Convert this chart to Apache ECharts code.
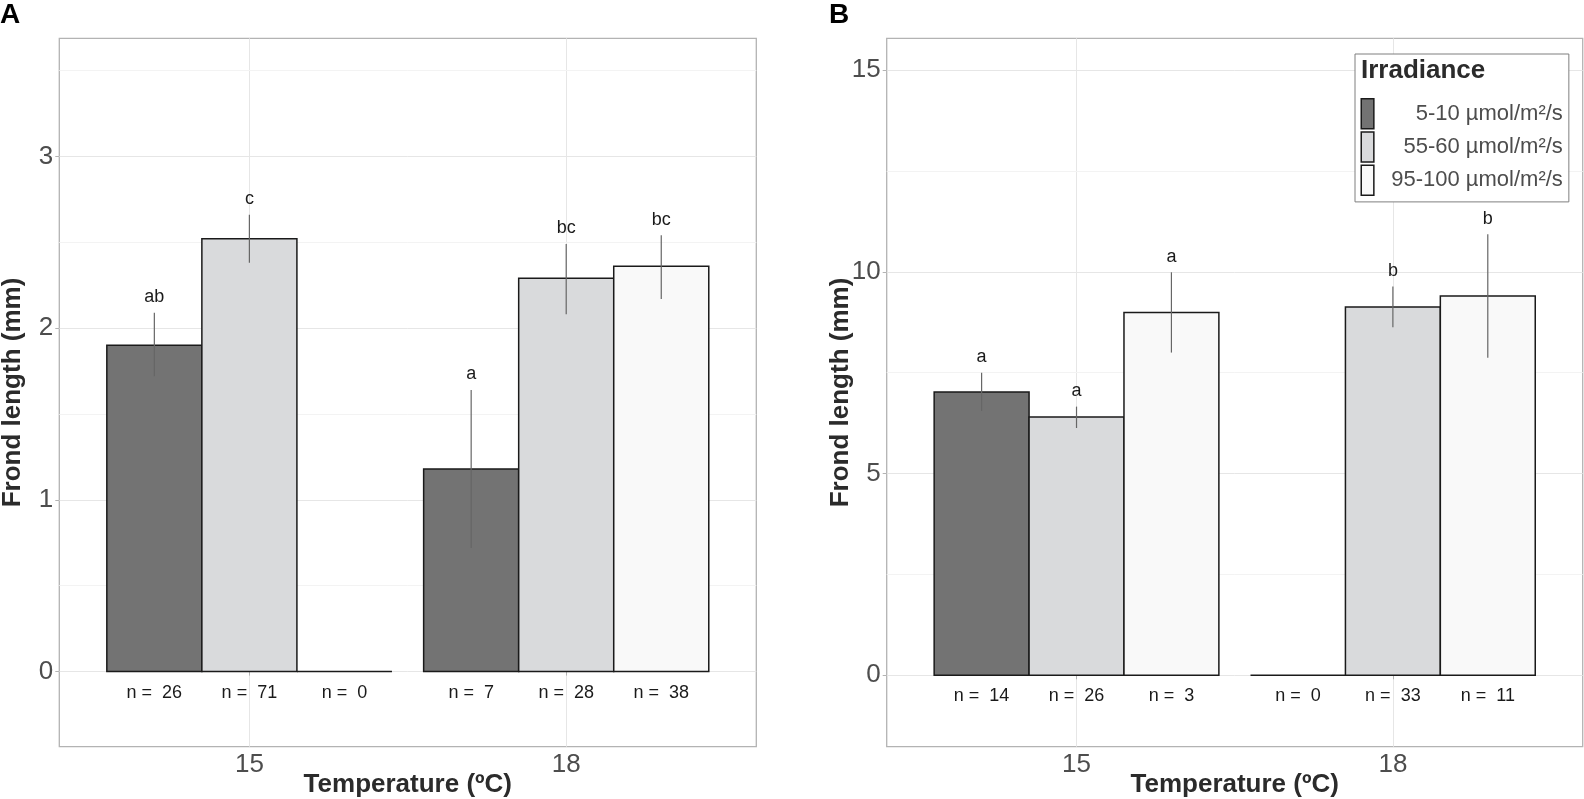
<!DOCTYPE html>
<html>
<head>
<meta charset="utf-8">
<script src="https://cdn.jsdelivr.net/npm/echarts@6/dist/echarts.min.js"></script>
<style>
html,body{margin:0;padding:0;background:#fff;}
#chart{width:1584px;height:799px;}
</style>
</head>
<body>
<div id="chart"></div>
<script>
// ---------- data ----------
const temperatures = ['15', '18'];
const irradianceLevels = ['5-10 µmol/m²/s', '55-60 µmol/m²/s', '95-100 µmol/m²/s'];

// Panel A  (rows: temperature, columns: irradiance level)
const meanA    = [[1.90, 2.52, 0],    [1.18, 2.29, 2.36]];
const lowerA   = [[1.72, 2.38, null], [0.72, 2.08, 2.17]];
const upperA   = [[2.09, 2.66, null], [1.64, 2.49, 2.54]];
const lettersA = [['ab', 'c', ''],    ['a', 'bc', 'bc']];
const countsA  = [[26, 71, 0],        [7, 28, 38]];

// Panel B
const meanB    = [[7.02, 6.40, 8.99], [0, 9.13, 9.40]];
const lowerB   = [[6.55, 6.13, 8.00], [null, 8.63, 7.87]];
const upperB   = [[7.50, 6.66, 9.99], [null, 9.64, 10.93]];
const lettersB = [['a', 'a', 'a'],    ['', 'b', 'b']];
const countsB  = [[14, 26, 3],        [0, 33, 11]];

const yTicksA = [0, 1, 2, 3];
const yMinorA = [0.5, 1.5, 2.5, 3.5];
const yTicksB = [0, 5, 10, 15];
const yMinorB = [2.5, 7.5, 12.5];
const xTickPos = [1, 2];

// ---------- style ----------
const FONT = '"Liberation Sans", Arial, sans-serif';
const fills = ['#737373', '#d9dadc', '#f9f9f9'];
const edge = '#1a1a1a';
const gridCol = '#e6e6e6';
const minorCol = '#f3f3f3';
const borderCol = '#b3b3b3';
const dodge = 0.3;

const chart = echarts.init(document.getElementById('chart'), null, {renderer: 'canvas'});

function makeRender(panelMean, panelLo, panelHi, panelLetters, panelN, irr) {
  return function (params, api) {
    const t = api.value(0);
    const v = api.value(1);
    const cx = t + 1 + (irr - 1) * dodge;
    const p0 = api.coord([cx - dodge / 2, v]);
    const p1 = api.coord([cx + dodge / 2, 0]);
    const pc = api.coord([cx, 0]);
    const children = [{
      type: 'rect',
      shape: {x: p0[0], y: Math.min(p0[1], p1[1]), width: p1[0] - p0[0], height: Math.abs(p1[1] - p0[1])},
      style: {fill: fills[irr], stroke: edge, lineWidth: 1.5}
    }];
    const lo = panelLo[t][irr], hi = panelHi[t][irr];
    if (lo !== null && hi !== null) {
      const a = api.coord([cx, lo]);
      const b = api.coord([cx, hi]);
      children.push({
        type: 'line',
        shape: {x1: a[0], y1: a[1], x2: b[0], y2: b[1]},
        style: {stroke: '#666666', lineWidth: 1.2}
      });
      children.push({
        type: 'text',
        style: {
          text: panelLetters[t][irr], x: b[0], y: b[1] - 15.5,
          align: 'center', verticalAlign: 'middle',
          textAlign: 'center', textVerticalAlign: 'middle',
          font: '18px ' + FONT, fill: '#1a1a1a'
        }
      });
    }
    children.push({
      type: 'text',
      style: {
        text: 'n =  ' + panelN[t][irr], x: pc[0], y: pc[1] + 21,
        align: 'center', verticalAlign: 'middle',
        textAlign: 'center', textVerticalAlign: 'middle',
        font: '18px ' + FONT, fill: '#1a1a1a'
      }
    });
    return {type: 'group', children: children};
  };
}

function xAxisFor(gi) {
  return {
    type: 'value', gridIndex: gi, min: 0.4, max: 2.6,
    name: 'Temperature (ºC)', nameLocation: 'middle', nameGap: 25, nameMoveOverlap: false,
    nameTextStyle: {fontFamily: FONT, fontSize: 26, fontWeight: 'bold', color: '#2b2b2b'},
    axisLine: {show: false},
    axisTick: {show: true, customValues: xTickPos, length: 4, lineStyle: {color: borderCol, width: 1}},
    axisLabel: {customValues: xTickPos, formatter: v => temperatures[Math.round(v) - 1],
      fontFamily: FONT, fontSize: 26, color: '#4d4d4d', margin: 5},
    splitLine: {show: true, lineStyle: {color: gridCol, width: 1}}
  };
}
function yAxisFor(gi, mn, mx, ticks) {
  return {
    type: 'value', gridIndex: gi, min: mn, max: mx,
    name: 'Frond length (mm)', nameLocation: 'middle', nameGap: 33, nameRotate: 90, nameMoveOverlap: false,
    nameTextStyle: {fontFamily: FONT, fontSize: 26, fontWeight: 'bold', color: '#2b2b2b'},
    axisLine: {show: false},
    axisTick: {show: true, customValues: ticks, length: 4, lineStyle: {color: borderCol, width: 1}},
    axisLabel: {customValues: ticks, fontFamily: FONT, fontSize: 26, color: '#4d4d4d', margin: 6},
    splitLine: {show: true, lineStyle: {color: gridCol, width: 1}},
    z: 2
  };
}
function yMinorFor(gi, mn, mx, ticks) {
  return {
    type: 'value', gridIndex: gi, min: mn, max: mx,
    axisLine: {show: false},
    axisTick: {show: false, customValues: ticks},
    axisLabel: {show: false, customValues: ticks},
    splitLine: {show: true, lineStyle: {color: minorCol, width: 1}},
    z: 1
  };
}

const series = [];
irradianceLevels.forEach((name, irr) => {
  series.push({
    type: 'custom', name: name, xAxisIndex: 0, yAxisIndex: 0,
    itemStyle: {color: fills[irr], borderColor: edge, borderWidth: 1.5},
    renderItem: makeRender(meanA, lowerA, upperA, lettersA, countsA, irr),
    encode: {x: 0, y: 1},
    data: temperatures.map((t, ti) => [ti, meanA[ti][irr]]),
    z: 5
  });
  series.push({
    type: 'custom', name: name, xAxisIndex: 1, yAxisIndex: 2,
    itemStyle: {color: fills[irr], borderColor: edge, borderWidth: 1.5},
    renderItem: makeRender(meanB, lowerB, upperB, lettersB, countsB, irr),
    encode: {x: 0, y: 1},
    data: temperatures.map((t, ti) => [ti, meanB[ti][irr]]),
    z: 5
  });
});

const gridBase = {show: true, borderColor: borderCol, borderWidth: 1.3, backgroundColor: '#fff',
  containLabel: false, outerBoundsMode: 'none'};

const option = {
  backgroundColor: '#ffffff',
  animation: false,
  title: [
    {text: 'A', left: 0, top: 1, padding: 0, textStyle: {fontFamily: FONT, fontSize: 28, fontWeight: 'bold', color: '#000'}},
    {text: 'B', left: 829, top: 1, padding: 0, textStyle: {fontFamily: FONT, fontSize: 28, fontWeight: 'bold', color: '#000'}},
    {text: 'Irradiance', left: 1361, top: 58, padding: 0, z: 20, textStyle: {fontFamily: FONT, fontSize: 26, fontWeight: 'bold', color: '#2b2b2b'}}
  ],
  grid: [
    Object.assign({left: 59.3, top: 38.3, width: 697, height: 708.4}, gridBase),
    Object.assign({left: 886.7, top: 38.3, width: 696, height: 708.4}, gridBase)
  ],
  xAxis: [xAxisFor(0), xAxisFor(1)],
  yAxis: [
    yAxisFor(0, -0.4375, 3.6875, yTicksA),
    yMinorFor(0, -0.4375, 3.6875, yMinorA),
    yAxisFor(1, -1.77, 15.79, yTicksB),
    yMinorFor(1, -1.77, 15.79, yMinorB)
  ],
  legend: {
    data: irradianceLevels,
    orient: 'vertical', left: 1355, top: 54,
    padding: [44, 6, 6, 5.5],
    itemWidth: 12.6, itemHeight: 30, itemGap: 1.7,
    borderColor: '#7f7f7f', borderWidth: 1, backgroundColor: '#fff',
    selectedMode: false,
    icon: 'rect',
    itemStyle: {borderColor: edge, borderWidth: 1.5},
    formatter: name => '{t|' + name + '}',
    textStyle: {
      fontFamily: FONT, fontSize: 22, color: '#4d4d4d',
      rich: {t: {width: 184, align: 'right', fontFamily: FONT, fontSize: 22, color: '#4d4d4d'}}
    },
    z: 10
  },
  series: series
};
chart.setOption(option);
</script>
</body>
</html>
